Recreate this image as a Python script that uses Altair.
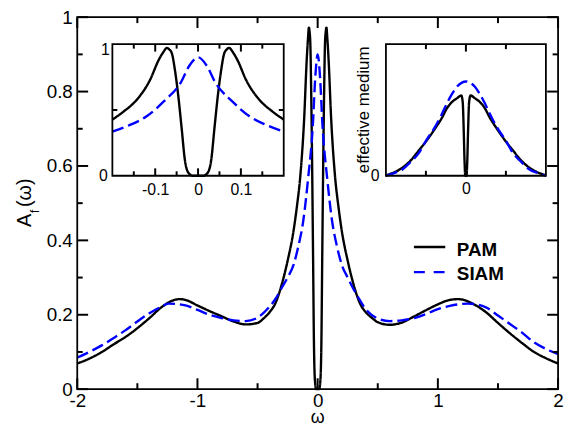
import altair as alt
import pandas as pd

FONT = "Liberation Sans"
W, H = 486, 376

# ---------------- data ----------------
pam_w = [-2.0, -1.9, -1.8, -1.7, -1.6, -1.5, -1.4, -1.3, -1.2, -1.15,
         -1.1, -1.0, -0.9, -0.8, -0.7, -0.6, -0.5, -0.45, -0.4, -0.35,
         -0.3, -0.25, -0.2, -0.173, -0.143, -0.112, -0.092, -0.08, -0.073, -0.067,
         -0.061, -0.054, -0.046, -0.038, -0.031, -0.023, -0.012, 0.0,
         0.012, 0.023, 0.031, 0.038, 0.046, 0.054, 0.061, 0.067, 0.073, 0.08,
         0.092, 0.112, 0.143, 0.173, 0.2, 0.25, 0.3, 0.35, 0.4, 0.45,
         0.5, 0.6, 0.7, 0.8, 0.9, 1.0, 1.1, 1.17, 1.2, 1.3,
         1.4, 1.5, 1.6, 1.7, 1.8, 1.9, 2.0]
pam_A = [0.069, 0.082, 0.099, 0.12, 0.14, 0.164, 0.191, 0.22, 0.239, 0.242,
         0.24, 0.225, 0.21, 0.196, 0.182, 0.174, 0.178, 0.19, 0.207, 0.232,
         0.28, 0.345, 0.427, 0.49, 0.578, 0.729, 0.879, 0.945, 0.972, 0.96,
         0.929, 0.804, 0.603, 0.352, 0.126, 0.025, 0.0, 0.0,
         0.0, 0.025, 0.126, 0.352, 0.603, 0.804, 0.929, 0.96, 0.972, 0.945,
         0.879, 0.729, 0.578, 0.49, 0.427, 0.345, 0.28, 0.232, 0.207, 0.192,
         0.18, 0.173, 0.179, 0.195, 0.212, 0.228, 0.24, 0.242, 0.241, 0.228,
         0.207, 0.178, 0.15, 0.124, 0.1, 0.083, 0.069]

siam_w = [-2.0, -1.9, -1.8, -1.7, -1.6, -1.5, -1.4, -1.3, -1.24, -1.1,
          -1.0, -0.9, -0.8, -0.7, -0.6, -0.5, -0.45, -0.4, -0.35, -0.3,
          -0.25, -0.2, -0.16, -0.12, -0.08, -0.04, -0.02, 0.0,
          0.02, 0.04, 0.08, 0.12, 0.16, 0.2, 0.25, 0.3, 0.35, 0.4,
          0.5, 0.6, 0.7, 0.8, 0.9, 1.0, 1.1, 1.25, 1.4, 1.5,
          1.6, 1.7, 1.8, 1.9, 2.0]
siam_A = [0.085, 0.1, 0.117, 0.137, 0.158, 0.182, 0.204, 0.222, 0.23, 0.225,
          0.213, 0.2, 0.191, 0.185, 0.183, 0.192, 0.205, 0.222, 0.243, 0.272,
          0.3, 0.335, 0.385, 0.452, 0.565, 0.71, 0.838, 0.9,
          0.838, 0.71, 0.565, 0.452, 0.385, 0.335, 0.3, 0.268, 0.24, 0.215,
          0.19, 0.183, 0.185, 0.191, 0.202, 0.215, 0.224, 0.23, 0.22, 0.198,
          0.175, 0.152, 0.126, 0.108, 0.094]

# effective-medium inset
em_pam_w = [-2.0, -1.8, -1.58, -1.4, -1.17, -1.0, -0.76, -0.6, -0.47, -0.35,
            -0.22, -0.116, -0.08, -0.055, -0.035, -0.015, 0.0, 0.015, 0.035, 0.055,
            0.08, 0.116, 0.22, 0.35, 0.47, 0.6, 0.76, 1.0, 1.17, 1.4,
            1.58, 1.8, 2.0]
em_pam_A = [0.005, 0.025, 0.063, 0.11, 0.195, 0.26, 0.364, 0.44, 0.515, 0.56,
            0.59, 0.61, 0.56, 0.35, 0.12, 0.0, 0.0, 0.0, 0.12, 0.35,
            0.56, 0.61, 0.59, 0.56, 0.515, 0.44, 0.364, 0.26, 0.195, 0.11,
            0.063, 0.025, 0.005]
em_siam_w = [-2.0, -1.8, -1.58, -1.4, -1.17, -1.0, -0.76, -0.6, -0.47, -0.35,
             -0.22, -0.1, 0.0, 0.1, 0.22, 0.35, 0.47, 0.6, 0.76, 1.0,
             1.17, 1.4, 1.58, 1.8, 2.0]
em_siam_A = [0.0, 0.02, 0.05, 0.1, 0.176, 0.265, 0.377, 0.47, 0.553, 0.62,
             0.678, 0.708, 0.716, 0.708, 0.678, 0.62, 0.553, 0.47, 0.377, 0.265,
             0.176, 0.1, 0.05, 0.02, 0.0]

series_names = ["PAM", "SIAM"]
series_colors = ["#000000", "#0000ff"]
series_dashes = [[1, 0], [12, 5]]

# tick values (major = long tick, minor = short tick) and label values
main_x_major = [-2, -1, 0, 1, 2]
main_x_minor = [-1.5, -0.5, 0.5, 1.5]
main_y_major = [0, 0.2, 0.4, 0.6, 0.8, 1]
main_y_minor = [0.1, 0.3, 0.5, 0.7, 0.9]
in1_x_major = [-0.1, 0, 0.1]
in1_x_minor = [-0.15, -0.05, 0.05, 0.15]
in1_x_labels = [-0.1, 0, 0.1]
in1_y_minor = [0.5]
in1_y_label_low = [0]
in1_y_label_top = [1]
in2_x_major = [0]
in2_x_minor = [-1, 1]
in2_x_labels = [0]
in2_y_labels = [0]

df_main = pd.concat([
    pd.DataFrame({"w": pam_w, "A": pam_A, "series": "PAM"}),
    pd.DataFrame({"w": siam_w, "A": siam_A, "series": "SIAM"}),
], ignore_index=True)
df_em = pd.concat([
    pd.DataFrame({"w": em_pam_w, "A": em_pam_A, "series": "PAM"}),
    pd.DataFrame({"w": em_siam_w, "A": em_siam_A, "series": "SIAM"}),
], ignore_index=True)
dummy = pd.DataFrame({"d": [0]})

# ---------------- layout (pixels inside plot area) ----------------
IN_Y = [160.3, 27.3]       # inset bottom, top
IN1_X = [35.5, 208.7]      # inset 1 left, right
IN2_X = [312.0, 473.7]     # inset 2 left, right

color = alt.Color("series:N", scale=alt.Scale(domain=series_names, range=series_colors), legend=None)
dash = alt.StrokeDash("series:N", scale=alt.Scale(domain=series_names, range=series_dashes), legend=None)


def sc(domain, rng=None):
    if rng is None:
        return alt.Scale(domain=domain, nice=False, zero=False)
    return alt.Scale(domain=domain, range=rng, nice=False, zero=False)


def label_axis(orient, offset, values, size, pad, **kw):
    return alt.Axis(orient=orient, offset=offset, values=values, labelExpr="'' + datum.value",
                    ticks=False, domain=False, grid=False, title=None,
                    labelFontSize=size, labelPadding=pad, labelFlush=False,
                    labelOverlap=False, labelColor="black", labelFont=FONT, **kw)


def frame(xr, yr):
    """Panel border; xr=[left,right], yr=[bottom,top] in px."""
    return alt.Chart(dummy).mark_rect(fillOpacity=0, stroke="black", strokeWidth=1.8).encode(
        x=alt.value(xr[0]), x2=alt.value(xr[1]), y=alt.value(yr[1]), y2=alt.value(yr[0]))


def tick_layer(xdom, ydom, xr, yr, xsets, ysets):
    """Inward tick segments on all four sides, drawn through the panel's scales.
    xsets / ysets: list of (values, length_px)."""
    kx = (xdom[1] - xdom[0]) / (xr[1] - xr[0])   # data units per px
    ky = (ydom[1] - ydom[0]) / (yr[0] - yr[1])
    rows = []
    for vals, ln in xsets:
        for v in vals:
            rows.append((v, ydom[0], v, ydom[0] + ln * ky))
            rows.append((v, ydom[1], v, ydom[1] - ln * ky))
    for vals, ln in ysets:
        for v in vals:
            rows.append((xdom[0], v, xdom[0] + ln * kx, v))
            rows.append((xdom[1], v, xdom[1] - ln * kx, v))
    d = pd.DataFrame(rows, columns=["tx", "ty", "tx2", "ty2"])
    return alt.Chart(d).mark_rule(color="black", strokeWidth=2).encode(
        x=alt.X("tx:Q", scale=sc(xdom, xr if xr[0] != 0 or xr[1] != W else None), axis=None),
        x2="tx2:Q",
        y=alt.Y("ty:Q", scale=sc(ydom, yr if yr[0] != H or yr[1] != 0 else None), axis=None),
        y2="ty2:Q",
    )


# ---------------- main panel ----------------
mxs, mys = sc([-2, 2]), sc([0, 1])
main_lines = alt.Chart(df_main).mark_line(strokeWidth=2.4, interpolate="monotone").encode(
    x=alt.X("w:Q", scale=mxs, axis=label_axis("bottom", 0, main_x_major, 19, 3)),
    y=alt.Y("A:Q", scale=mys, axis=label_axis("left", 0, main_y_major, 19, 5)),
    color=color, strokeDash=dash,
)
main_deco = [frame([0, W], [H, 0]),
             tick_layer([-2, 2], [0, 1], [0, W], [H, 0],
                        [(main_x_major, 11), (main_x_minor, 6)],
                        [(main_y_major, 11), (main_y_minor, 5.5)])]

# ---------------- inset 1 (zoom on the centre) ----------------
in1_src = alt.Chart(df_main).transform_filter("abs(datum.w) <= 0.2")
in1_xs = sc([-0.2, 0.2], IN1_X)
in1_ys = sc([0, 1], IN_Y)
in1_lines = in1_src.mark_line(strokeWidth=2.4, interpolate="monotone").encode(
    x=alt.X("w:Q", scale=in1_xs, axis=label_axis("bottom", IN_Y[0] - H, in1_x_labels, 16, 6)),
    y=alt.Y("A:Q", scale=in1_ys, axis=label_axis("left", -IN1_X[0], in1_y_label_low, 16, 5)),
    color=color, strokeDash=dash,
)
in1_toplabel = in1_src.mark_point(opacity=0).encode(
    x=alt.X("w:Q", scale=in1_xs, axis=None),
    y=alt.Y("A:Q", scale=in1_ys,
            axis=label_axis("left", -IN1_X[0], in1_y_label_top, 16, 3, labelOffset=5)),
)
in1_deco = [frame(IN1_X, IN_Y), in1_toplabel,
            tick_layer([-0.2, 0.2], [0, 1], IN1_X, IN_Y,
                       [(in1_x_major, 7.5), (in1_x_minor, 4.5)],
                       [(in1_y_minor, 5)])]

# ---------------- inset 2 (effective medium) ----------------
in2_xs = sc([-2, 2], IN2_X)
in2_ys = sc([0, 1], IN_Y)
in2_lines = alt.Chart(df_em).mark_line(strokeWidth=2.4, interpolate="monotone").encode(
    x=alt.X("w:Q", scale=in2_xs, axis=label_axis("bottom", IN_Y[0] - H, in2_x_labels, 16, 5)),
    y=alt.Y("A:Q", scale=in2_ys, axis=label_axis("left", -IN2_X[0], in2_y_labels, 16, 7)),
    color=color, strokeDash=dash,
)
in2_deco = [frame(IN2_X, IN_Y),
            tick_layer([-2, 2], [0, 1], IN2_X, IN_Y,
                       [(in2_x_major, 7.5), (in2_x_minor, 5)], [])]

# ---------------- text: axis titles, inset title, legend ----------------
def txt(s, x, y, size, angle=0, align="left", weight="normal"):
    kw = dict(text=s, fontSize=size, align=align, baseline="alphabetic",
              font=FONT, color="black", fontWeight=weight)
    if angle:
        kw["angle"] = angle
    return alt.Chart(dummy).mark_text(**kw).encode(x=alt.value(x), y=alt.value(y))

t_A = txt("A", -46.3, 212, 20, angle=270)
t_f = txt("f", -38.7, 198, 12, angle=270)
t_w = txt("(ω)", -46.3, 192, 20, angle=270)
t_xt = txt("ω", 243, 410, 18, align="center")
t_em = txt("effective medium", 295, 93.7, 17, angle=270, align="center")

leg_pam_line = alt.Chart(dummy).mark_rule(color="#000000", strokeWidth=2.4).encode(
    x=alt.value(340.3), x2=alt.value(372), y=alt.value(232.3))
leg_siam_line = alt.Chart(dummy).mark_rule(color="#0000ff", strokeWidth=2.4, strokeDash=[11, 9]).encode(
    x=alt.value(340.3), x2=alt.value(372), y=alt.value(257.7))
leg_pam_txt = txt("PAM", 383.7, 241, 19, weight="bold")
leg_siam_txt = txt("SIAM", 383.7, 266, 19, weight="bold")

chart = alt.layer(
    main_lines, *main_deco,
    in1_lines, *in1_deco,
    in2_lines, *in2_deco,
    t_A, t_f, t_w, t_xt, t_em,
    leg_pam_line, leg_siam_line, leg_pam_txt, leg_siam_txt,
).resolve_scale(
    x="independent", y="independent"
).properties(
    width=W, height=H, background="white",
    autosize=alt.AutoSizeParams(type="none"),
    padding={"left": 70, "top": 7, "right": 6, "bottom": 38},
).configure_view(
    strokeWidth=0
)

chart.save("out.html", embed_options={"renderer": "svg", "actions": False})
